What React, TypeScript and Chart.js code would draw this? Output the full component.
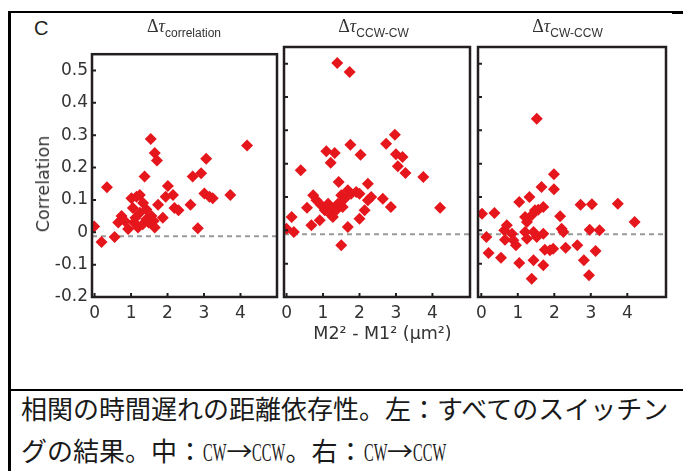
import React, { useEffect, useRef } from "react";
import { Chart, registerables } from "chart.js";

Chart.register(...registerables);

// ---- tick definitions ----
const X_TICKS = [0, 1, 2, 3, 4];
const X_TICK_LABELS = ["0", "1", "2", "3", "4"];
const Y_TICKS = [-0.2, -0.1, 0, 0.1, 0.2, 0.3, 0.4, 0.5];
const Y_TICK_LABELS = ["-0.2", "-0.1", "0", "0.1", "0.2", "0.3", "0.4", "0.5"];
const Y_MIN = -0.2;
const Y_MAX = 0.55;
const ZERO_LINE = -0.012;

// ---- texts ----
const PANEL_SUBSCRIPTS = ["correlation", "CCW-CW", "CW-CCW"];
const Y_TITLE = "Correlation";
const X_TITLE = "M2² - M1² (μm²)";
const PANEL_LETTER = "C";
const CAPTION_LINE1 = "相関の時間遅れの距離依存性。左：すべてのスイッチン";
const CAPTION_LINE2_A = "グの結果。中：";
const CAPTION_LINE2_B = "。右：";
const ARROW_FROM = "CW";
const ARROW_TO = "CCW";

// ---- data: left panel (all switching) ----
const ALL_X = [-0.01, 0.19, 0.34, 0.55, 0.65, 0.74, 0.83, 0.92, 1.01, 1.05, 1.08, 1.12, 1.15, 1.19, 1.24, 1.24, 1.32, 1.33, 1.37, 1.42, 1.42, 1.48, 1.54, 1.56, 1.62, 1.65, 1.65, 1.71, 1.74, 1.87, 1.95, 2.01, 2.15, 2.19, 2.3, 2.63, 2.69, 2.83, 2.92, 3.01, 3.06, 3.15, 3.24, 3.72, 4.18];
const ALL_Y = [0.018, -0.03, 0.139, -0.015, 0.03, 0.05, 0.035, 0.01, 0.105, 0.075, 0.03, 0.045, 0.11, 0.015, 0.115, 0.06, 0.025, 0.09, 0.172, 0.07, 0.04, 0.03, 0.288, 0.05, 0.035, 0.015, 0.245, 0.222, 0.085, 0.045, 0.11, 0.143, 0.115, 0.075, 0.068, 0.085, 0.172, 0.012, 0.182, 0.12, 0.227, 0.11, 0.105, 0.115, 0.268];

// ---- data: middle panel (CCW-CW) ----
const CCW_CW_X = [0.0, 0.14, 0.2, 0.39, 0.56, 0.68, 0.73, 0.82, 0.91, 0.95, 1.05, 1.09, 1.14, 1.21, 1.23, 1.27, 1.27, 1.32, 1.36, 1.39, 1.41, 1.43, 1.5, 1.5, 1.54, 1.59, 1.68, 1.68, 1.73, 1.75, 1.77, 1.91, 2.0, 2.0, 2.03, 2.14, 2.23, 2.23, 2.32, 2.64, 2.73, 2.86, 2.97, 3.0, 3.05, 3.18, 3.26, 3.75, 4.21];
const CCW_CW_Y = [0.005, 0.04, -0.005, 0.18, 0.068, 0.015, 0.105, 0.09, 0.03, 0.075, 0.06, 0.237, 0.08, 0.203, 0.045, 0.065, 0.04, 0.232, 0.06, 0.502, 0.08, 0.145, 0.105, -0.045, 0.07, 0.095, 0.12, 0.01, 0.475, 0.257, 0.11, 0.115, 0.11, 0.035, 0.227, 0.06, 0.14, 0.09, 0.1, 0.095, 0.26, 0.07, 0.287, 0.228, 0.192, 0.22, 0.172, 0.16, 0.068];

// ---- data: right panel (CW-CCW) ----
const CW_CCW_X = [0.02, 0.14, 0.2, 0.36, 0.54, 0.63, 0.65, 0.7, 0.84, 0.88, 0.95, 1.04, 1.04, 1.2, 1.2, 1.25, 1.25, 1.32, 1.38, 1.38, 1.43, 1.43, 1.47, 1.52, 1.52, 1.56, 1.65, 1.7, 1.7, 1.7, 1.74, 1.88, 1.97, 1.99, 1.99, 2.16, 2.2, 2.25, 2.31, 2.63, 2.72, 2.81, 2.95, 2.97, 3.03, 3.13, 3.24, 3.74, 4.2];
const CW_CCW_Y = [0.05, -0.02, -0.068, 0.052, -0.082, 0.0, -0.028, 0.015, -0.01, -0.03, -0.045, 0.085, -0.098, 0.04, -0.005, 0.025, -0.025, 0.1, 0.045, -0.145, -0.005, -0.09, 0.06, 0.335, -0.02, 0.062, 0.13, 0.07, -0.01, -0.105, -0.058, -0.06, -0.055, 0.168, 0.123, 0.042, 0.005, -0.005, -0.052, -0.045, 0.077, -0.09, -0.135, 0.002, 0.078, -0.062, 0.0, 0.08, 0.025];

// ---- x-axis ranges per panel ----
const X_MINS = [-0.07, -0.07, -0.09];
const X_MAXS = [5.0, 5.03, 5.06];

const RED = "#e5161c";
const FRAME = "#231f20";
const TEXT = "#333333";

const framePlugin = {
  id: "frameTicks",
  beforeDatasetsDraw(chart: any) {
    const { ctx, chartArea, scales } = chart;
    const py = scales.y.getPixelForValue(ZERO_LINE);
    ctx.save();
    ctx.strokeStyle = "#9a9a9a";
    ctx.lineWidth = 2;
    ctx.setLineDash([5, 4]);
    ctx.beginPath();
    ctx.moveTo(chartArea.left, py);
    ctx.lineTo(chartArea.right, py);
    ctx.stroke();
    ctx.restore();
  },
  afterDatasetsDraw(chart: any) {
    const { ctx, chartArea, scales } = chart;
    const { left, right, top, bottom } = chartArea;
    ctx.save();
    ctx.strokeStyle = FRAME;
    ctx.lineWidth = 2;
    ctx.beginPath();
    for (const v of Y_TICKS) {
      const p = scales.y.getPixelForValue(v);
      ctx.moveTo(left, p);
      ctx.lineTo(left + 4, p);
    }
    for (const v of X_TICKS) {
      const p = scales.x.getPixelForValue(v);
      ctx.moveTo(p, bottom);
      ctx.lineTo(p, bottom - 4);
    }
    ctx.stroke();
    ctx.lineWidth = 2.5;
    ctx.strokeRect(left, top, right - left, bottom - top);
    ctx.restore();
  },
};

type PanelProps = {
  xs: number[];
  ys: number[];
  xMin: number;
  xMax: number;
  showY: boolean;
  left: number;
  width: number;
  yAxisWidth: number;
};

const CANVAS_TOP = 40;
const CANVAS_HEIGHT = 290;

function Panel({ xs, ys, xMin, xMax, showY, left, width, yAxisWidth }: PanelProps) {
  const ref = useRef<HTMLCanvasElement | null>(null);
  useEffect(() => {
    if (!ref.current) return;
    const chart = new Chart(ref.current, {
      type: "scatter",
      data: {
        datasets: [
          {
            data: xs.map((x, i) => ({ x, y: ys[i] })),
            pointStyle: "rectRot",
            pointRadius: 6,
            pointHoverRadius: 6,
            pointBackgroundColor: RED,
            pointBorderColor: RED,
            pointBorderWidth: 0,
          },
        ],
      },
      options: {
        animation: false,
        responsive: false,
        maintainAspectRatio: false,
        events: [],
        layout: { padding: { top: 7, right: 5, left: 0, bottom: 0 } },
        plugins: {
          legend: { display: false },
          tooltip: { enabled: false },
          title: { display: false },
        },
        scales: {
          x: {
            type: "linear",
            min: xMin,
            max: xMax,
            grid: { display: false, drawTicks: false },
            border: { display: false },
            ticks: {
              autoSkip: false,
              maxRotation: 0,
              padding: 6,
              color: TEXT,
              font: { family: "DejaVu Sans", size: 17 },
              callback: (_v: any, i: number) => X_TICK_LABELS[i],
            },
            afterBuildTicks: (s: any) => {
              s.ticks = X_TICKS.map((value) => ({ value }));
            },
            afterFit: (s: any) => {
              s.height = 33;
            },
          },
          y: {
            type: "linear",
            min: Y_MIN,
            max: Y_MAX,
            grid: { display: false, drawTicks: false },
            border: { display: false },
            ticks: {
              display: showY,
              autoSkip: false,
              padding: 4,
              color: TEXT,
              font: { family: "DejaVu Sans", size: 17 },
              callback: (_v: any, i: number) => Y_TICK_LABELS[i],
            },
            afterBuildTicks: (s: any) => {
              s.ticks = Y_TICKS.map((value) => ({ value }));
            },
            afterFit: (s: any) => {
              s.width = yAxisWidth;
            },
          },
        },
      } as any,
      plugins: [framePlugin],
    });
    return () => chart.destroy();
  }, []);
  return (
    <div style={{ position: "absolute", left, top: CANVAS_TOP, width, height: CANVAS_HEIGHT }}>
      <canvas ref={ref} width={width} height={CANVAS_HEIGHT} style={{ width, height: CANVAS_HEIGHT, display: "block" }} />
    </div>
  );
}

function PanelTitle({ sub, cx }: { sub: string; cx: number }) {
  return (
    <div
      style={{
        position: "absolute",
        left: cx,
        top: 16.9,
        transform: "translateX(-50%)",
        whiteSpace: "nowrap",
        fontFamily: "'Liberation Serif', serif",
        fontSize: 18,
        lineHeight: "18px",
        color: TEXT,
      }}
    >
      <span>Δ</span>
      <span style={{ fontStyle: "italic" }}>τ</span>
      <span
        style={{
          fontFamily: "'Liberation Sans', sans-serif",
          fontSize: 12,
          verticalAlign: "-5px",
        }}
      >
        {sub}
      </span>
    </div>
  );
}

function Cond({ text, width }: { text: string; width: number }) {
  return (
    <span style={{ display: "inline-block", width, whiteSpace: "nowrap" }}>
      <span
        style={{
          display: "inline-block",
          transform: "scaleX(0.56)",
          transformOrigin: "0 50%",
          fontFamily: "'Liberation Serif', serif",
        }}
      >
        {text}
      </span>
    </span>
  );
}

function CwToCcw() {
  return (
    <>
      <Cond text={ARROW_FROM} width={23.4} />
      <span>→</span>
      <Cond text={ARROW_TO} width={33.1} />
    </>
  );
}

export default function App() {
  const captionStyle: React.CSSProperties = {
    position: "absolute",
    left: 21,
    whiteSpace: "nowrap",
    fontFamily: "'Noto Sans CJK JP', sans-serif",
    fontSize: 26,
    lineHeight: "26px",
    color: "#1a1a1a",
  };
  return (
    <div
      style={{
        position: "absolute",
        left: 0,
        top: 0,
        width: 683,
        height: 471,
        background: "#ffffff",
        overflow: "hidden",
      }}
    >
      {/* table borders */}
      <div style={{ position: "absolute", left: 8, top: 11, width: 2.5, height: 460, background: "#000" }} />
      <div style={{ position: "absolute", left: 8, top: 11, width: 664, height: 2, background: "#000" }} />
      <div style={{ position: "absolute", left: 672, top: 11, width: 11, height: 3, background: "#000" }} />
      <div style={{ position: "absolute", left: 8, top: 388.5, width: 675, height: 2.5, background: "#000" }} />

      {/* panel letter */}
      <div
        style={{
          position: "absolute",
          left: 34,
          top: 18.1,
          fontFamily: "'Liberation Sans', sans-serif",
          fontSize: 20,
          lineHeight: "20px",
          color: "#231f20",
        }}
      >
        {PANEL_LETTER}
      </div>

      <Panel xs={ALL_X} ys={ALL_Y} xMin={X_MINS[0]} xMax={X_MAXS[0]} showY={true} left={40} width={243} yAxisWidth={52} />
      <Panel xs={CCW_CW_X} ys={CCW_CW_Y} xMin={X_MINS[1]} xMax={X_MAXS[1]} showY={false} left={274} width={202} yAxisWidth={10} />
      <Panel xs={CW_CCW_X} ys={CW_CCW_Y} xMin={X_MINS[2]} xMax={X_MAXS[2]} showY={false} left={468} width={204} yAxisWidth={10} />

      <PanelTitle sub={PANEL_SUBSCRIPTS[0]} cx={184} />
      <PanelTitle sub={PANEL_SUBSCRIPTS[1]} cx={373.5} />
      <PanelTitle sub={PANEL_SUBSCRIPTS[2]} cx={567.5} />

      {/* axis titles */}
      <div
        style={{
          position: "absolute",
          left: 43,
          top: 183.5,
          transform: "translate(-50%, -50%) rotate(-90deg)",
          whiteSpace: "nowrap",
          fontFamily: "'DejaVu Sans', sans-serif",
          fontSize: 17.5,
          lineHeight: "20px",
          color: TEXT,
        }}
      >
        {Y_TITLE}
      </div>
      <div
        style={{
          position: "absolute",
          left: 382.5,
          top: 323,
          transform: "translateX(-50%)",
          whiteSpace: "nowrap",
          fontFamily: "'DejaVu Sans', sans-serif",
          fontSize: 17.5,
          lineHeight: "20px",
          color: TEXT,
        }}
      >
        {X_TITLE}
      </div>

      {/* caption */}
      <div style={{ ...captionStyle, top: 394.5 }}>{CAPTION_LINE1}</div>
      <div style={{ ...captionStyle, top: 436.5 }}>
        {CAPTION_LINE2_A}
        <CwToCcw />
        {CAPTION_LINE2_B}
        <CwToCcw />
      </div>
    </div>
  );
}
